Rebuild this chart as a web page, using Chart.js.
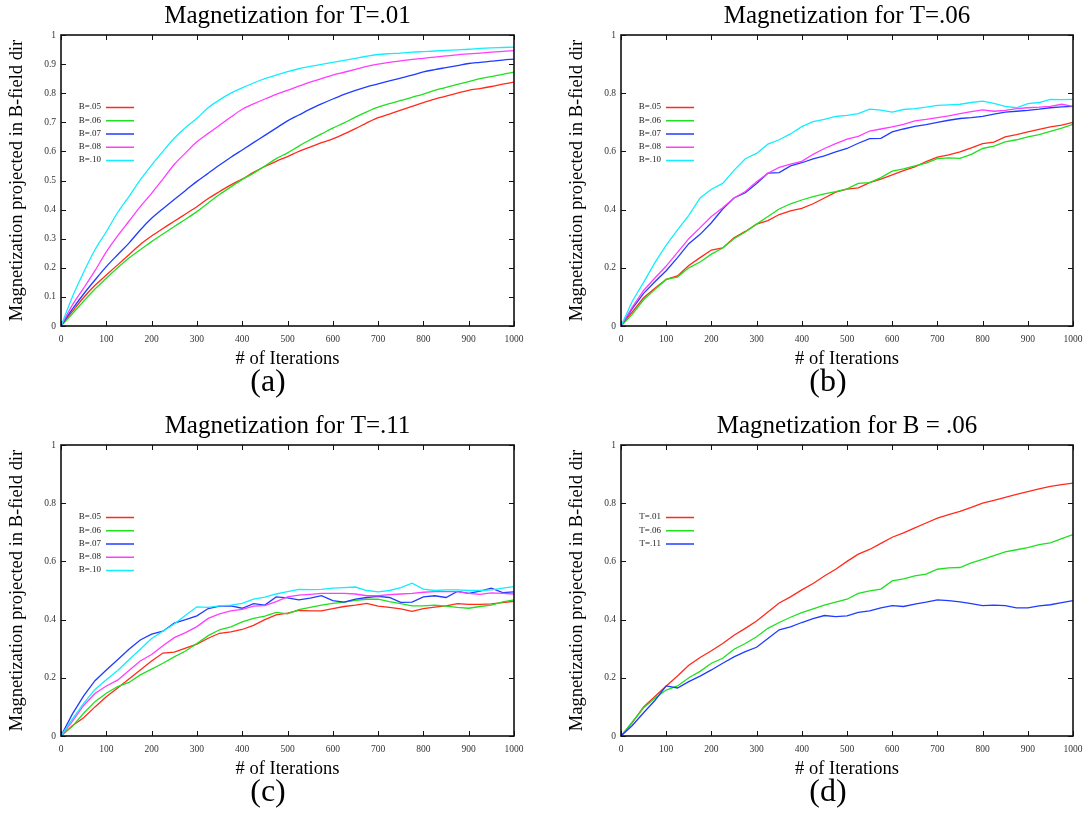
<!DOCTYPE html>
<html>
<head>
<meta charset="utf-8">
<title>Magnetization vs iterations</title>
<script src="https://cdn.jsdelivr.net/npm/chart.js@4.4.1/dist/chart.umd.min.js"></script>
<style>
  html, body { margin: 0; padding: 0; background: #fff; }
  #page { position: relative; width: 1084px; height: 813px; overflow: hidden; background: #fff; }
  #page canvas { position: absolute; }
</style>
</head>
<body>
<div id="page">
  <canvas id="panelA" width="540" height="403" style="left:0px;top:0px"></canvas>
  <canvas id="panelB" width="534" height="403" style="left:560px;top:0px"></canvas>
  <canvas id="panelC" width="540" height="403" style="left:0px;top:410px"></canvas>
  <canvas id="panelD" width="534" height="403" style="left:560px;top:410px"></canvas>
</div>
<script>
const FONT = "'Liberation Serif', 'Times New Roman', serif";

// sample points shared by every run
const ITERATIONS = [
  0, 25, 50, 75, 100, 125, 150, 175, 200, 225,
  250, 275, 300, 325, 350, 375, 400, 425, 450, 475,
  500, 525, 550, 575, 600, 625, 650, 675, 700, 725,
  750, 775, 800, 825, 850, 875, 900, 925, 950, 975, 1000
];

const X_TICKS = [0, 100, 200, 300, 400, 500, 600, 700, 800, 900, 1000];
const Y_TICKS_FINE = [0, 0.1, 0.2, 0.3, 0.4, 0.5, 0.6, 0.7, 0.8, 0.9, 1];
const Y_TICKS_COARSE = [0, 0.2, 0.4, 0.6, 0.8, 1];

const B_LABELS = ['B=.05', 'B=.06', 'B=.07', 'B=.08', 'B=.10'];
const T_LABELS = ['T=.01', 'T=.06', 'T=.11'];
const LINE_COLORS = ['#ff2a1a', '#1fe01f', '#1f3cff', '#ff3dff', '#12edff'];

// T = .01
const T01_B05 = [
  0, .05, .098, .14, .175, .21, .245, .28, .309, .335,
  .36, .385, .41, .438, .462, .485, .505, .528, .548, .566,
  .582, .6, .615, .63, .643, .66, .678, .698, .716, .728,
  .742, .755, .768, .78, .79, .8, .81, .816, .823, .831, .838
];
const T01_B06 = [
  0, .042, .085, .127, .164, .2, .234, .262, .29, .316,
  .342, .367, .393, .423, .452, .478, .503, .525, .55, .575,
  .595, .618, .64, .66, .68, .698, .718, .736, .752, .764,
  .775, .786, .797, .81, .82, .83, .84, .85, .857, .865, .872
];
const T01_B07 = [
  0, .058, .11, .158, .204, .245, .285, .33, .37, .403,
  .435, .466, .497, .525, .553, .58, .605, .63, .655, .68,
  .705, .725, .745, .763, .78, .796, .81, .822, .832, .842,
  .852, .862, .873, .881, .888, .895, .902, .906, .91, .914, .917
];
const T01_B08 = [
  0, .072, .13, .19, .255, .31, .36, .41, .456, .505,
  .555, .595, .633, .662, .69, .718, .745, .763, .78, .796,
  .81, .824, .838, .85, .862, .872, .882, .892, .9, .906,
  .911, .916, .92, .924, .928, .932, .935, .938, .941, .944, .946
];
const T01_B10 = [
  0, .1, .185, .262, .324, .39, .445, .502, .553, .6,
  .645, .682, .714, .75, .777, .8, .818, .835, .85, .862,
  .874, .884, .892, .899, .906, .913, .92, .927, .933, .936,
  .938, .941, .943, .945, .947, .949, .951, .954, .956, .957, .958
];

// T = .06
const T06_B05 = [
  0, .048, .097, .13, .16, .172, .208, .235, .261, .268,
  .303, .325, .35, .362, .383, .396, .404, .42, .44, .46,
  .47, .475, .493, .505, .519, .534, .547, .565, .58, .588,
  .598, .612, .627, .632, .65, .658, .667, .676, .684, .69, .70
];
const T06_B06 = [
  0, .04, .09, .125, .16, .168, .2, .22, .247, .268,
  .3, .323, .35, .376, .402, .42, .433, .445, .454, .462,
  .471, .49, .493, .51, .532, .54, .55, .56, .575, .578,
  .576, .59, .61, .618, .633, .64, .65, .658, .669, .68, .693
];
const T06_B07 = [
  0, .06, .112, .152, .19, .235, .283, .315, .355, .402,
  .44, .458, .49, .525, .527, .55, .561, .574, .585, .598,
  .61, .628, .644, .645, .667, .677, .686, .692, .70, .707,
  .713, .716, .72, .728, .735, .738, .741, .745, .75, .753, .755
];
const T06_B08 = [
  0, .065, .122, .165, .206, .253, .3, .338, .376, .406,
  .44, .462, .496, .525, .545, .556, .566, .59, .61, .627,
  .642, .652, .67, .677, .684, .693, .705, .71, .716, .722,
  .73, .737, .743, .738, .741, .747, .75, .752, .755, .762, .755
];
const T06_B10 = [
  0, .085, .15, .218, .278, .33, .38, .44, .47, .49,
  .535, .575, .593, .625, .64, .66, .685, .702, .71, .72,
  .724, .73, .745, .742, .735, .744, .747, .752, .758, .76,
  .762, .768, .773, .765, .755, .75, .764, .768, .779, .778, .779
];

// T = .11
const T11_B05 = [
  0, .035, .063, .10, .135, .165, .196, .227, .258, .285,
  .288, .302, .316, .336, .353, .358, .366, .38, .4, .416,
  .422, .432, .43, .43, .438, .445, .45, .456, .446, .442,
  .437, .428, .438, .443, .447, .455, .452, .452, .454, .458, .463
];
const T11_B06 = [
  0, .033, .078, .118, .147, .17, .184, .21, .23, .25,
  .272, .292, .318, .345, .365, .375, .392, .404, .412, .425,
  .42, .434, .442, .45, .456, .46, .466, .47, .47, .462,
  .455, .447, .447, .45, .446, .442, .439, .445, .45, .461, .468
];
const T11_B07 = [
  0, .075, .138, .19, .227, .262, .298, .33, .35, .36,
  .388, .4, .413, .438, .446, .447, .439, .455, .45, .478,
  .475, .468, .474, .482, .465, .46, .47, .476, .48, .476,
  .459, .46, .478, .482, .476, .497, .49, .498, .508, .493, .495
];
const T11_B08 = [
  0, .05, .105, .146, .172, .192, .225, .258, .28, .31,
  .338, .355, .376, .404, .42, .43, .435, .446, .448, .462,
  .478, .484, .487, .49, .49, .49, .488, .482, .482, .486,
  .488, .49, .494, .496, .496, .496, .49, .487, .492, .49, .488
];
const T11_B10 = [
  0, .058, .112, .16, .193, .225, .262, .298, .335, .36,
  .385, .415, .444, .442, .447, .45, .456, .47, .477, .488,
  .496, .504, .503, .504, .508, .51, .512, .5, .495, .5,
  .51, .525, .505, .5, .502, .502, .5, .5, .502, .508, .513
];

// B = .06 at three temperatures
const B06_T01 = [
  0, .046, .1, .136, .172, .206, .243, .27, .293, .318,
  .346, .37, .395, .426, .457, .478, .502, .524, .55, .573,
  .60, .625, .641, .662, .683, .698, .715, .732, .749, .761,
  .772, .786, .80, .81, .82, .83, .84, .849, .858, .864, .869
];
const B06_T06 = [
  0, .048, .097, .13, .158, .172, .2, .222, .25, .267,
  .298, .318, .341, .37, .39, .408, .424, .437, .45, .46,
  .47, .49, .499, .505, .533, .54, .55, .556, .573, .578,
  .579, .595, .607, .62, .633, .64, .647, .658, .664, .678, .692
];
const B06_T11 = [
  0, .036, .08, .122, .172, .165, .187, .206, .227, .25,
  .272, .29, .305, .335, .365, .375, .39, .403, .414, .41,
  .413, .425, .43, .44, .448, .445, .453, .46, .468, .465,
  .461, .455, .448, .45, .448, .44, .44, .447, .451, .458, .465
];

// gnuplot-style box with inward ticks on all four sides
const frameTicks = {
  id: 'frameTicks',
  afterDatasetsDraw(chart, args, opts) {
    const { ctx, chartArea: a, scales: { x, y } } = chart;
    const len = 5;
    ctx.save();
    ctx.strokeStyle = '#111';
    ctx.lineWidth = 1;
    ctx.beginPath();
    X_TICKS.forEach(v => {
      const px = Math.round(x.getPixelForValue(v)) + 0.5;
      ctx.moveTo(px, a.bottom); ctx.lineTo(px, a.bottom - len);
      ctx.moveTo(px, a.top); ctx.lineTo(px, a.top + len);
    });
    opts.yTicks.forEach(v => {
      const py = Math.round(y.getPixelForValue(v)) + 0.5;
      ctx.moveTo(a.left, py); ctx.lineTo(a.left + len, py);
      ctx.moveTo(a.right, py); ctx.lineTo(a.right - len, py);
    });
    ctx.stroke();
    ctx.lineWidth = 1.6;
    ctx.strokeRect(a.left, a.top, a.right - a.left, a.bottom - a.top);
    ctx.restore();
  }
};

// key drawn inside the plot, label first, then a short line sample
const insetKey = {
  id: 'insetKey',
  afterDraw(chart) {
    const { ctx, chartArea: a } = chart;
    ctx.save();
    ctx.font = '9px ' + FONT;
    ctx.textAlign = 'right';
    ctx.textBaseline = 'middle';
    chart.data.datasets.forEach((ds, i) => {
      const yy = a.top + 72 + i * 13.25;
      ctx.fillStyle = '#222';
      ctx.fillText(ds.label, a.left + 40, yy);
      ctx.strokeStyle = ds.borderColor;
      ctx.lineWidth = 1.5;
      ctx.beginPath();
      ctx.moveTo(a.left + 45, yy + 0.5);
      ctx.lineTo(a.left + 73, yy + 0.5);
      ctx.stroke();
    });
    ctx.restore();
  }
};

// subfigure letter under each panel
const caption = {
  id: 'caption',
  afterDraw(chart, args, opts) {
    const { ctx, chartArea: a } = chart;
    ctx.save();
    ctx.font = '32px ' + FONT;
    ctx.fillStyle = '#000';
    ctx.textAlign = 'center';
    ctx.textBaseline = 'middle';
    ctx.fillText(opts.text, 268, a.bottom + 57);
    ctx.restore();
  }
};

function makePanel(canvasId, title, letter, labels, series, yTicks, rightPad, smooth) {
  const datasets = series.map((values, i) => ({
    label: labels[i],
    data: ITERATIONS.map((it, k) => ({ x: it, y: values[k] })),
    borderColor: LINE_COLORS[i],
    borderWidth: 1.3,
    pointRadius: 0,
    fill: false,
    order: series.length - i,
    cubicInterpolationMode: smooth ? 'monotone' : 'default',
    tension: 0
  }));

  new Chart(document.getElementById(canvasId), {
    type: 'line',
    data: { datasets },
    plugins: [frameTicks, insetKey, caption],
    options: {
      responsive: false,
      animation: false,
      events: [],
      layout: { padding: { left: 0, right: rightPad, top: 0, bottom: 35 } },
      plugins: {
        legend: { display: false },
        tooltip: { enabled: false },
        frameTicks: { yTicks },
        caption: { text: letter }
      },
      scales: {
        x: {
          type: 'linear',
          position: 'bottom',
          min: 0,
          max: 1000,
          afterBuildTicks: s => { s.ticks = X_TICKS.map(v => ({ value: v })); },
          afterFit: s => { s.height = 42; },
          grid: { display: false, drawTicks: false },
          border: { display: false },
          ticks: {
            font: { family: FONT, size: 9.5 },
            color: '#333',
            padding: 8,
            maxRotation: 0,
            autoSkip: false,
            callback: v => String(v)
          },
          title: {
            display: true,
            text: '# of Iterations',
            font: { family: FONT, size: 18.5, lineHeight: 1 },
            color: '#000',
            padding: { top: 0, bottom: 0 }
          }
        },
        xTop: {
          type: 'linear',
          axis: 'x',
          position: 'top',
          min: 0,
          max: 1000,
          afterFit: s => { s.height = 35; },
          grid: { display: false, drawTicks: false },
          border: { display: false },
          ticks: { display: false },
          title: {
            display: true,
            text: title,
            font: { family: FONT, size: 25, lineHeight: 1 },
            color: '#000',
            padding: { top: 3.5, bottom: 0 }
          }
        },
        y: {
          type: 'linear',
          position: 'left',
          min: 0,
          max: 1,
          afterBuildTicks: s => { s.ticks = yTicks.map(v => ({ value: v })); },
          afterFit: s => { s.width = 61; },
          grid: { display: false, drawTicks: false },
          border: { display: false },
          ticks: {
            font: { family: FONT, size: 9.5 },
            color: '#333',
            padding: 5,
            autoSkip: false,
            callback: v => String(v)
          },
          title: {
            display: true,
            text: 'Magnetization projected in B-field dir',
            font: { family: FONT, size: 18.5, lineHeight: 1 },
            color: '#000',
            padding: { top: 8, bottom: 0 }
          }
        }
      }
    }
  });
}

makePanel('panelA', 'Magnetization for T=.01', '(a)', B_LABELS,
  [T01_B05, T01_B06, T01_B07, T01_B08, T01_B10], Y_TICKS_FINE, 26, true);
makePanel('panelB', 'Magnetization for T=.06', '(b)', B_LABELS,
  [T06_B05, T06_B06, T06_B07, T06_B08, T06_B10], Y_TICKS_COARSE, 21, false);
makePanel('panelC', 'Magnetization for T=.11', '(c)', B_LABELS,
  [T11_B05, T11_B06, T11_B07, T11_B08, T11_B10], Y_TICKS_COARSE, 26, false);
makePanel('panelD', 'Magnetization for B = .06', '(d)', T_LABELS,
  [B06_T01, B06_T06, B06_T11], Y_TICKS_COARSE, 21, false);
</script>
</body>
</html>
